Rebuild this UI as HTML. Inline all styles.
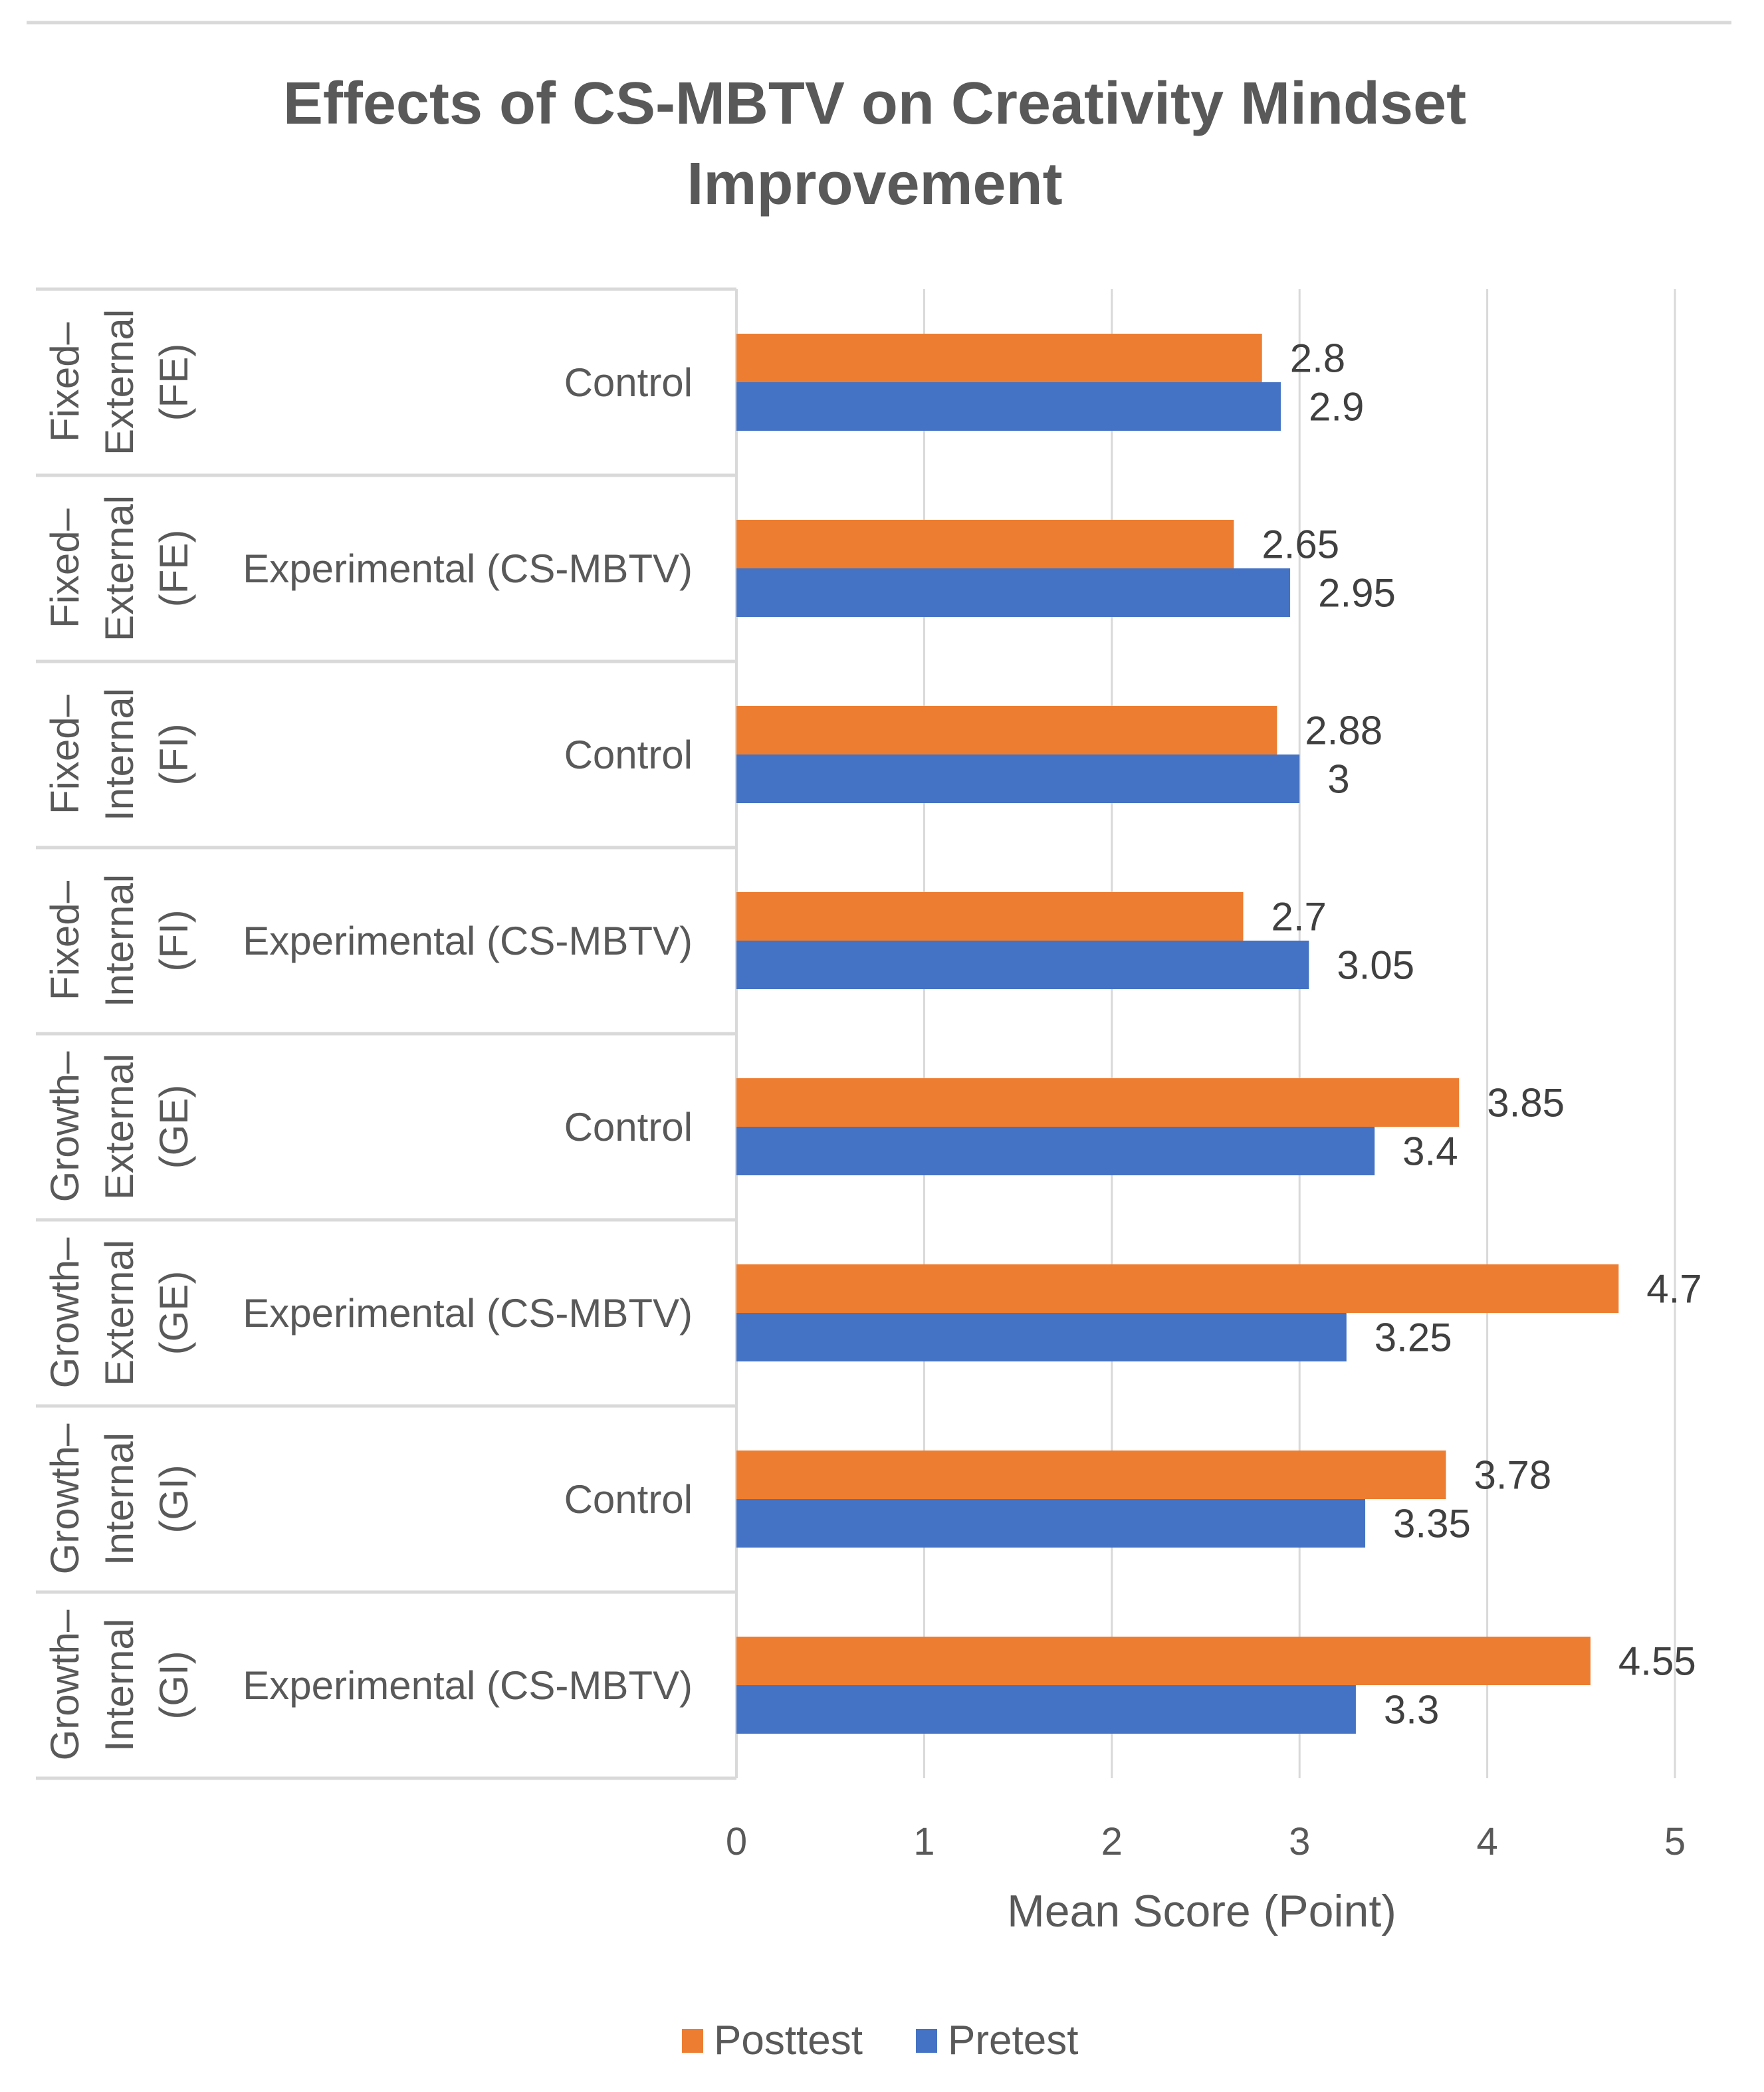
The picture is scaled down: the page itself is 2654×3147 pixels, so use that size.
<!DOCTYPE html>
<html><head><meta charset="utf-8">
<style>
html,body{margin:0;padding:0;background:#fff;}
svg{display:block;font-family:"Liberation Sans",sans-serif;}
</style></head>
<body>
<svg id="chart" width="2654" height="3147" viewBox="0 0 2654 3147" xmlns="http://www.w3.org/2000/svg">
<rect width="2654" height="3147" fill="#fff"/>
<line x1="40" y1="34" x2="2605" y2="34" stroke="#d9d9d9" stroke-width="5"/>
<text x="1316" y="186" text-anchor="middle" font-size="90" font-weight="bold" fill="#595959">Effects of CS-MBTV on Creativity Mindset</text>
<text x="1316" y="307" text-anchor="middle" font-size="90" font-weight="bold" fill="#595959">Improvement</text>
<g id="grid"></g>
<g id="table"></g>
<g id="bars"></g>
<g id="xaxis"></g>
<text x="1808" y="2898" text-anchor="middle" font-size="68" fill="#595959">Mean Score (Point)</text>
<g>
<rect x="1026" y="3052" width="32" height="36" fill="#ed7d31"/>
<text x="1074" y="3090" font-size="62" fill="#595959">Posttest</text>
<rect x="1378" y="3052" width="32" height="36" fill="#4472c4"/>
<text x="1426" y="3090" font-size="62" fill="#595959">Pretest</text>
</g>
</svg>
<script>
const groupLine1 = ["Fixed–","Fixed–","Fixed–","Fixed–","Growth–","Growth–","Growth–","Growth–"];
const groupLine2 = ["External","External","Internal","Internal","External","External","Internal","Internal"];
const groupLine3 = ["(FE)","(FE)","(FI)","(FI)","(GE)","(GE)","(GI)","(GI)"];
const conditions = ["Control","Experimental (CS-MBTV)","Control","Experimental (CS-MBTV)","Control","Experimental (CS-MBTV)","Control","Experimental (CS-MBTV)"];
const posttest = [2.8,2.65,2.88,2.7,3.85,4.7,3.78,4.55];
const pretest = [2.9,2.95,3,3.05,3.4,3.25,3.35,3.3];
const xTicks = [0,1,2,3,4,5];

const NS="http://www.w3.org/2000/svg";
const X0=1108, X1=2520, XMAX=5, TOP=435, BOTTOM=2675;
const rowH=(BOTTOM-TOP)/conditions.length;
const xs=v=>X0+(X1-X0)*v/XMAX;
function mk(tag,attrs,parent){const e=document.createElementNS(NS,tag);for(const k in attrs)e.setAttribute(k,attrs[k]);parent.appendChild(e);return e;}

const grid=document.getElementById('grid');
xTicks.forEach((t,i)=>{
  if(t===0)return;
  const l=mk('line',{x1:xs(t),x2:xs(t),y1:TOP,y2:BOTTOM,stroke:'#d9d9d9','stroke-width':3},grid);
  
  
});
const xaxis=document.getElementById('xaxis');
xTicks.forEach(t=>{
  const tx=mk('text',{x:xs(t),y:2790,'text-anchor':'middle','font-size':58,fill:'#595959'},xaxis);
  tx.textContent=t;
  
  
});

const table=document.getElementById('table');
const av=mk('line',{x1:X0,x2:X0,y1:TOP,y2:BOTTOM,stroke:'#d9d9d9',"stroke-width":4},table);


for(let i=0;i<=conditions.length;i++){
  const y=TOP+i*rowH;
  const l=mk('line',{x1:54,x2:X0,y1:y,y2:y,stroke:'#d9d9d9','stroke-width':5},table);
  
  
}
const bars=document.getElementById('bars');
const barH=73;
conditions.forEach((c,i)=>{
  const cy=TOP+i*rowH+rowH/2;
  const t=mk('text',{x:1042,y:cy+21,'text-anchor':'end','font-size':60,fill:'#595959'},table);
  t.textContent=c;
  
  
  const g=mk('text',{transform:`translate(180,${cy}) rotate(-90)`,'text-anchor':'middle','font-size':60,fill:'#595959'},table);
  
  
  [groupLine1[i],groupLine2[i],groupLine3[i]].forEach((s,k)=>{
    const ts=mk('tspan',{x:0,y:(k-1)*82+20},g);ts.textContent=s;
  });
  const ob=mk('rect',{x:X0,y:cy-barH,width:xs(posttest[i])-X0,height:barH,fill:'#ed7d31'},bars);
  
  
  const bb=mk('rect',{x:X0,y:cy,width:xs(pretest[i])-X0,height:barH,fill:'#4472c4'},bars);
  
  
  const ol=mk('text',{x:xs(posttest[i])+42,y:cy-barH/2+21,'font-size':60,fill:'#404040'},bars);
  ol.textContent=posttest[i];
  
  
  const bl=mk('text',{x:xs(pretest[i])+42,y:cy+barH/2+21,'font-size':60,fill:'#404040'},bars);
  bl.textContent=pretest[i];
  
  
});
</script>
</body></html>
